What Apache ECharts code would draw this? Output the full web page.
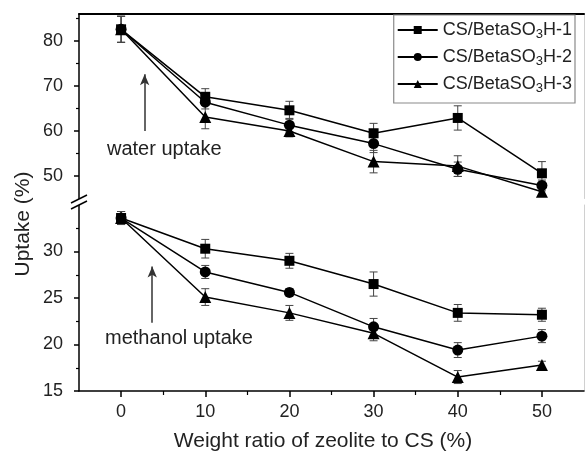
<!DOCTYPE html>
<html>
<head>
<meta charset="utf-8">
<script src="https://cdn.jsdelivr.net/npm/echarts@6/dist/echarts.min.js"></script>
<style>
html,body{margin:0;padding:0;background:#fff;}
#c{width:585px;height:455px;}
</style>
</head>
<body>
<div id="c"></div>
<script>
// ---- data ----
var xValues = [0, 10, 20, 30, 40, 50];
var seriesNames = ['CS/BetaSO3H-1', 'CS/BetaSO3H-2', 'CS/BetaSO3H-3'];

var water1 = [82.6, 67.6, 64.6, 59.5, 62.9, 50.6];
var water2 = [82.6, 66.4, 61.3, 57.2, 51.5, 47.9];
var water3 = [82.6, 63.1, 60.0, 53.2, 52.2, 46.5];
var waterErr1 = [2.9, 1.8, 2.0, 2.2, 2.7, 2.6];
var waterErr2 = [2.9, 1.5, 1.5, 2.0, 1.6, 1.2];
var waterErr3 = [2.9, 2.6, 1.3, 2.5, 2.3, 0.8];

var meth1 = [33.6, 30.3, 29.0, 26.5, 23.4, 23.2];
var meth2 = [33.6, 27.8, 25.6, 21.9, 19.4, 20.9];
var meth3 = [33.6, 25.1, 23.4, 21.2, 16.5, 17.8];
var methErr1 = [0.7, 1.0, 0.8, 1.3, 0.9, 0.7];
var methErr2 = [0.7, 0.7, 0.4, 0.9, 0.8, 0.7];
var methErr3 = [0.7, 0.9, 0.8, 0.8, 0.7, 0.4];

var xTicks = [0, 10, 20, 30, 40, 50];
var xMinorTicks = [5, 15, 25, 35, 45];
var upperTicks = [50, 60, 70, 80];
var upperMinorTicks = [55, 65, 75, 85];
var lowerTicks = [15, 20, 25, 30];
var lowerMinorTicks = [17.5, 22.5, 27.5, 32.5];

// ---- chart ----
var FONT = '"Liberation Sans", Arial, sans-serif';
var chart = echarts.init(document.getElementById('c'), null, {renderer: 'canvas'});

function pairs(ys) { return xValues.map(function (x, i) { return [x, ys[i]]; }); }
function errData(ys, es) { return xValues.map(function (x, i) { return [x, ys[i] - es[i], ys[i] + es[i]]; }); }

var symbols = ['rect', 'circle', 'triangle'];
var symSizes = [10, 11, 12];

function lineSeries(name, idx, ys, xi, yi) {
  return {
    type: 'line', name: name, data: pairs(ys), xAxisIndex: xi, yAxisIndex: yi,
    symbol: symbols[idx], symbolSize: symSizes[idx], showAllSymbol: true,
    itemStyle: {color: '#000'}, lineStyle: {color: '#000', width: 1.5},
    z: 5, animation: false
  };
}
function errSeries(ys, es, xi, yi) {
  return {
    type: 'custom', xAxisIndex: xi, yAxisIndex: yi, data: errData(ys, es),
    encode: {x: 0, y: [1, 2]}, z: 3, silent: true, animation: false,
    renderItem: function (params, api) {
      var x = api.value(0);
      var lo = api.coord([x, api.value(1)]);
      var hi = api.coord([x, api.value(2)]);
      var w = 4;
      var st = {stroke: '#444', lineWidth: 1};
      return {type: 'group', children: [
        {type: 'line', shape: {x1: lo[0], y1: lo[1], x2: hi[0], y2: hi[1]}, style: st},
        {type: 'line', shape: {x1: lo[0] - w, y1: lo[1], x2: lo[0] + w, y2: lo[1]}, style: st},
        {type: 'line', shape: {x1: hi[0] - w, y1: hi[1], x2: hi[0] + w, y2: hi[1]}, style: st}
      ]};
    }
  };
}

var labelStyle = {fontSize: 18, fontFamily: FONT, color: '#222'};
var blackLine = {show: true, onZero: false, lineStyle: {color: '#000', width: 1.5}};
var grayLine = {show: true, onZero: false, lineStyle: {color: '#d0d0d0', width: 1}};
var noLine = {show: false, onZero: false};

var option = {
  animation: false,
  backgroundColor: '#fff',
  textStyle: {fontFamily: FONT},
  grid: [
    {left: 79, top: 14, width: 505, height: 184.5},
    {left: 79, top: 205, width: 505, height: 186}
  ],
  xAxis: [
    {gridIndex: 0, type: 'value', min: -5, max: 55, position: 'top',
      axisLine: {show: true, onZero: false, lineStyle: {color: '#000', width: 2}}, axisTick: {show: false},
      axisLabel: {show: false}, splitLine: {show: false}},
    {gridIndex: 1, type: 'value', min: -5, max: 55, position: 'bottom',
      axisLine: blackLine,
      axisTick: {show: true, customValues: xTicks, length: 6, lineStyle: {color: '#000', width: 1.5}},
      axisLabel: Object.assign({customValues: xTicks, margin: 12}, labelStyle),
      splitLine: {show: false}},
    {gridIndex: 1, type: 'value', min: -5, max: 55, position: 'bottom',
      axisLine: noLine,
      axisTick: {show: true, customValues: xMinorTicks, length: 4, lineStyle: {color: '#000', width: 1.2}},
      axisLabel: {show: false}, splitLine: {show: false}}
  ],
  yAxis: [
    {gridIndex: 0, type: 'value', min: 45, max: 86, position: 'left',
      axisLine: blackLine,
      axisTick: {show: true, customValues: upperTicks, length: 5, lineStyle: {color: '#000', width: 1.5}},
      axisLabel: Object.assign({customValues: upperTicks, margin: 16}, labelStyle),
      splitLine: {show: false}},
    {gridIndex: 0, type: 'value', min: 45, max: 86, position: 'left',
      axisLine: noLine,
      axisTick: {show: true, customValues: upperMinorTicks, length: 3, lineStyle: {color: '#000', width: 1.2}},
      axisLabel: {show: false}, splitLine: {show: false}},
    {gridIndex: 0, type: 'value', min: 45, max: 86, position: 'right',
      axisLine: grayLine, axisTick: {show: false}, axisLabel: {show: false}, splitLine: {show: false}},
    {gridIndex: 1, type: 'value', min: 15, max: 35, position: 'left',
      axisLine: blackLine,
      axisTick: {show: true, customValues: lowerTicks, length: 5, lineStyle: {color: '#000', width: 1.5}},
      axisLabel: Object.assign({customValues: lowerTicks, margin: 16}, labelStyle),
      splitLine: {show: false}},
    {gridIndex: 1, type: 'value', min: 15, max: 35, position: 'left',
      axisLine: noLine,
      axisTick: {show: true, customValues: lowerMinorTicks, length: 3, lineStyle: {color: '#000', width: 1.2}},
      axisLabel: {show: false}, splitLine: {show: false}},
    {gridIndex: 1, type: 'value', min: 15, max: 35, position: 'right',
      axisLine: grayLine, axisTick: {show: false}, axisLabel: {show: false}, splitLine: {show: false}}
  ],
  legend: {
    data: seriesNames,
    orient: 'vertical', right: 10, top: 15,
    itemWidth: 40, itemHeight: 10, itemGap: 7,
    padding: [6, 3, 8, 3],
    backgroundColor: '#fff', borderColor: '#8a8a8a', borderWidth: 1.2,
    textStyle: {fontSize: 18, fontFamily: FONT, color: '#222',
      rich: {
        m: {fontSize: 18, fontFamily: FONT, color: '#222'},
        s: {fontSize: 13, fontFamily: FONT, color: '#222', padding: [9, 0, 0, 0]}
      }}
  },
  series: [
    errSeries(water1, waterErr1, 0, 0),
    errSeries(water2, waterErr2, 0, 0),
    errSeries(water3, waterErr3, 0, 0),
    errSeries(meth1, methErr1, 1, 3),
    errSeries(meth2, methErr2, 1, 3),
    errSeries(meth3, methErr3, 1, 3),
    lineSeries(seriesNames[0], 0, water1, 0, 0),
    lineSeries(seriesNames[1], 1, water2, 0, 0),
    lineSeries(seriesNames[2], 2, water3, 0, 0),
    lineSeries(seriesNames[0], 0, meth1, 1, 3),
    lineSeries(seriesNames[1], 1, meth2, 1, 3),
    lineSeries(seriesNames[2], 2, meth3, 1, 3),
    {type: 'line', xAxisIndex: 0, yAxisIndex: 0, data: [], silent: true,
      markLine: {silent: true, symbol: ['none', 'arrow'], symbolSize: [7, 11], label: {show: false},
        lineStyle: {color: '#333', width: 1.5, type: 'solid'},
        data: [[{coord: [2.8, 60.0]}, {coord: [2.8, 72.6]}]]}},
    {type: 'line', xAxisIndex: 1, yAxisIndex: 3, data: [], silent: true,
      markLine: {silent: true, symbol: ['none', 'arrow'], symbolSize: [7, 11], label: {show: false},
        lineStyle: {color: '#333', width: 1.5, type: 'solid'},
        data: [[{coord: [3.7, 22.35]}, {coord: [3.7, 28.4]}]]}}
  ],
  graphic: [
    {type: 'text', left: 107, top: 139, style: {text: 'water uptake', font: '20px ' + FONT, fill: '#222'}},
    {type: 'text', left: 105, top: 328, style: {text: 'methanol uptake', font: '20px ' + FONT, fill: '#222'}},
    {type: 'text', x: 323, y: 441,
      style: {text: 'Weight ratio of zeolite to CS (%)', font: '21px ' + FONT, fill: '#222', align: 'center', verticalAlign: 'middle'}},
    {type: 'text', x: 23, y: 224, rotation: Math.PI / 2,
      style: {text: 'Uptake (%)', font: '21px ' + FONT, fill: '#222', align: 'center', verticalAlign: 'middle'}},
    {type: 'rect', shape: {x: 74, y: 199, width: 10, height: 6}, style: {fill: '#fff'}, z: 100},
    {type: 'line', shape: {x1: 71, y1: 203, x2: 87, y2: 195}, style: {stroke: '#000', lineWidth: 1.5}, z: 101},
    {type: 'line', shape: {x1: 71, y1: 209, x2: 87, y2: 201}, style: {stroke: '#000', lineWidth: 1.5}, z: 101}
  ]
};
// legend subscript formatter
option.legend.formatter = function (name) {
  var parts = name.split('SO3');
  return '{m|' + parts[0] + 'SO}{s|3}{m|' + parts[1] + '}';
};
chart.setOption(option);
</script>
</body>
</html>
